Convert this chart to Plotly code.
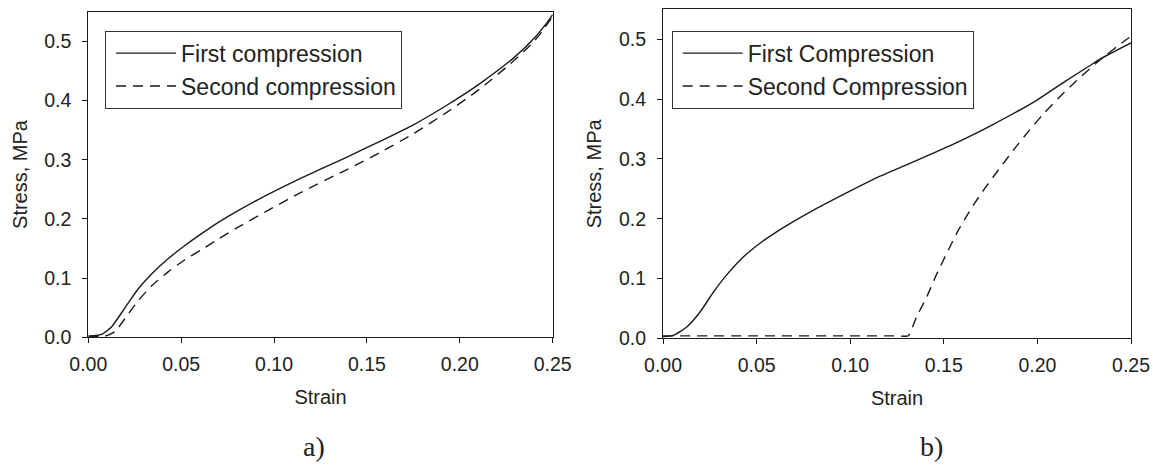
import plotly.graph_objects as go

# ---- data ----
strain_a_first = [0, 0.004, 0.0072, 0.0126, 0.0198, 0.0269, 0.0341, 0.0431, 0.052, 0.061, 0.070, 0.079,
                  0.096, 0.114, 0.139, 0.157, 0.175, 0.193, 0.211, 0.229, 0.240, 0.247, 0.25]
stress_a_first = [0.002, 0.003, 0.005, 0.018, 0.050, 0.082, 0.107, 0.133, 0.155, 0.175, 0.194, 0.211,
                  0.240, 0.268, 0.304, 0.331, 0.359, 0.392, 0.429, 0.472, 0.505, 0.532, 0.545]

strain_a_second = [0, 0.009, 0.0144, 0.0198, 0.0269, 0.0341, 0.0431, 0.052, 0.061, 0.070, 0.079,
                   0.096, 0.114, 0.139, 0.157, 0.175, 0.193, 0.211, 0.229, 0.240, 0.245, 0.25]
stress_a_second = [0.002, 0.002, 0.010, 0.032, 0.062, 0.087, 0.111, 0.131, 0.148, 0.166, 0.183,
                   0.213, 0.244, 0.283, 0.312, 0.344, 0.380, 0.420, 0.467, 0.500, 0.520, 0.542]

strain_b_first = [0, 0.0055, 0.0127, 0.0198, 0.0269, 0.034, 0.0429, 0.0518, 0.0607, 0.0696, 0.0785,
                  0.098, 0.116, 0.130, 0.141, 0.158, 0.176, 0.1996, 0.215, 0.230, 0.2335, 0.25]
stress_b_first = [0.003, 0.005, 0.019, 0.044, 0.077, 0.106, 0.136, 0.159, 0.178, 0.195, 0.211,
                  0.243, 0.271, 0.290, 0.305, 0.329, 0.357, 0.398, 0.430, 0.460, 0.467, 0.494]

strain_b_second = [0, 0.05, 0.10, 0.125, 0.131, 0.1355, 0.141, 0.146, 0.152, 0.158, 0.165, 0.172, 0.180,
                   0.188, 0.196, 0.204, 0.212, 0.221, 0.2335, 0.2477, 0.25]
stress_b_second = [0.004, 0.004, 0.004, 0.004, 0.004, 0.036, 0.070, 0.106, 0.145, 0.182, 0.219, 0.251, 0.285,
                   0.318, 0.349, 0.378, 0.404, 0.431, 0.466, 0.500, 0.505]

x_ticks = [0.00, 0.05, 0.10, 0.15, 0.20, 0.25]
y_ticks = [0.0, 0.1, 0.2, 0.3, 0.4, 0.5]

FONT = "Liberation Sans, Arial, sans-serif"
SERIF = "Liberation Serif, Times New Roman, serif"
INK = "#1a1a1a"
TXT = "#222"

W, H = 1153, 465

fig = go.Figure()

def add_line(x, y, name, dash, xa, ya, legend, smoothing=0.6):
    fig.add_trace(go.Scatter(
        x=x, y=y, mode="lines", name=name, xaxis=xa, yaxis=ya, legend=legend,
        line=dict(color=INK, width=1.4, dash=dash, shape="spline", smoothing=smoothing),
    ))

add_line(strain_a_first, stress_a_first, "First compression", "solid", "x", "y", "legend")
add_line(strain_a_second, stress_a_second, "Second compression", "10px,7px", "x", "y", "legend")
add_line(strain_b_first, stress_b_first, "First Compression", "solid", "x2", "y2", "legend2")
add_line(strain_b_second, stress_b_second, "Second Compression", "10px,7px", "x2", "y2", "legend2", smoothing=0.4)

def px_x(p):
    return p / W

def px_y(p):
    return 1 - p / H

axis_common = dict(
    showgrid=False, zeroline=False, showline=True, linecolor=INK, linewidth=1.2,
    mirror=True, ticks="outside", ticklen=5, tickcolor=INK, tickwidth=1.2,
    tickfont=dict(family=FONT, size=19.5, color=TXT), automargin=False,
)

xa = dict(axis_common, range=[0, 0.25], tickvals=x_ticks, tickformat=".2f", ticklabelstandoff=4,
          title=dict(text="Strain", font=dict(family=FONT, size=20, color=TXT), standoff=16))
ya = dict(axis_common, range=[0, 0.55], tickvals=y_ticks, tickformat=".1f", ticklabelstandoff=7,
          title=dict(text="Stress, MPa", font=dict(family=FONT, size=20, color=TXT), standoff=11))

legend_common = dict(xanchor="left", yanchor="top", bordercolor="#333", borderwidth=1,
                     bgcolor="white", font=dict(family=FONT, size=23, color=TXT),
                     itemwidth=60, indentation=5, tracegroupgap=0)

fig.update_layout(
    width=W, height=H,
    margin=dict(l=0, r=0, t=0, b=0),
    paper_bgcolor="white", plot_bgcolor="white",
    template=None,
    xaxis=dict(xa, domain=[px_x(88.3), px_x(552.7)], anchor="y"),
    yaxis=dict(ya, domain=[px_y(337.3), px_y(11.7)], anchor="x"),
    xaxis2=dict(xa, domain=[px_x(663), px_x(1131)], anchor="y2"),
    yaxis2=dict(ya, domain=[px_y(338.3), px_y(9.4)], anchor="x2"),
    legend=dict(legend_common, x=px_x(105), y=px_y(30.7)),
    legend2=dict(legend_common, x=px_x(671.7), y=px_y(30.7)),
    annotations=[
        dict(text="a)", x=px_x(314), y=px_y(446.7), xref="paper", yref="paper",
             showarrow=False, xanchor="center", yanchor="middle",
             font=dict(family=SERIF, size=28, color=TXT)),
        dict(text="b)", x=px_x(931.7), y=px_y(446.7), xref="paper", yref="paper",
             showarrow=False, xanchor="center", yanchor="middle",
             font=dict(family=SERIF, size=28, color=TXT)),
    ],
)

fig.write_html("out.html",
               config={"displayModeBar": False},
               post_script="document.body.style.margin='0';document.body.style.overflow='hidden';")
